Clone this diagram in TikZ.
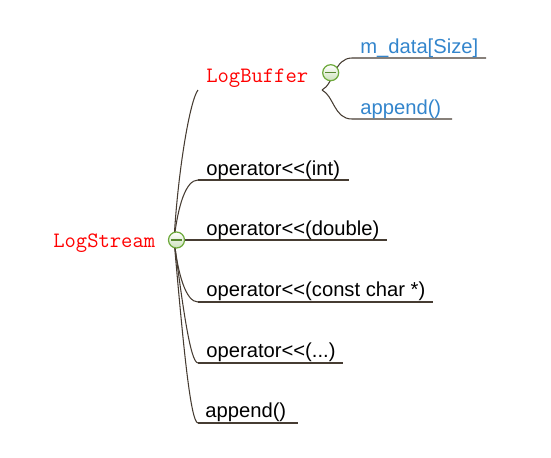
\documentclass[tikz,border=0pt]{standalone}
\usepackage{fontspec}
\setmainfont{Liberation Sans}

\definecolor{branchline}{RGB}{70,60,50}
\definecolor{topicred}{RGB}{255,0,0}
\definecolor{leafblue}{RGB}{51,133,204}
\definecolor{knobgreen}{RGB}{110,170,60}

\begin{document}
\begin{tikzpicture}[x=0.02cm, y=-0.02cm]
    % Styles
    \tikzset{
        topic/.style={font=\ttfamily\fontsize{12.5}{14}\selectfont, text=topicred, inner sep=0pt, anchor=base west},
        leaf/.style={font=\fontsize{11.5}{13}\selectfont, inner sep=0pt, anchor=base west},
        subleaf/.style={leaf, text=leafblue},
        branch/.style={draw=branchline, line width=0.6pt},
        knob/.style={circle, draw=knobgreen, line width=0.7pt, top color=white, bottom color=knobgreen!35,
            minimum size=0.32cm, inner sep=0pt,
            path picture={\draw[knobgreen!80!black, line width=0.9pt]
                ([xshift=-3.2pt]path picture bounding box.center) -- ([xshift=3.2pt]path picture bounding box.center);}}
    }
    \useasboundingbox (0,0) rectangle (551,457);

    % Central topic
    \node[topic] (stream) at (53,247) {LogStream};
    \coordinate (fork) at (174,240);

    % Left ends of the branches
    \coordinate (buffer-l) at (198,90);
    \coordinate (int-l) at (198,180);
    \coordinate (dbl-l) at (198,240);
    \coordinate (str-l) at (198,302);
    \coordinate (any-l) at (198,363);
    \coordinate (app-l) at (198,423);

    % Right ends of the underlines
    \coordinate (int-r) at (349,180);
    \coordinate (dbl-r) at (387,240);
    \coordinate (str-r) at (433,302);
    \coordinate (any-r) at (343,363);
    \coordinate (app-r) at (298,423);

    % Branches from LogStream
    \draw[branch] (fork) .. controls (178,170) and (190,100) .. (buffer-l);
    \draw[branch] (fork) .. controls (178,205) and (186,180) .. (int-l);
    \draw[branch] (fork) -- (dbl-l);
    \draw[branch] (fork) .. controls (178,275) and (186,302) .. (str-l);
    \draw[branch] (fork) .. controls (182,300) and (190,363) .. (any-l);
    \draw[branch] (fork) .. controls (182,330) and (190,423) .. (app-l);

    % Underlines
    \draw[branch] (int-l) -- (int-r);
    \draw[branch] (dbl-l) -- (dbl-r);
    \draw[branch] (str-l) -- (str-r);
    \draw[branch] (any-l) -- (any-r);
    \draw[branch] (app-l) -- (app-r);

    % Leaves of LogStream
    \node[topic] (buffer) at (206,82) {LogBuffer};
    \node[leaf] (int) at (206,175) {operator<{}<(int)};
    \node[leaf] (dbl) at (206,235) {operator<{}<(double)};
    \node[leaf] (str) at (206,296) {operator<{}<(const char *)};
    \node[leaf] (any) at (206,357) {operator<{}<(...)};
    \node[leaf] (app) at (205,417) {append()};

    % LogBuffer sub-branches
    \coordinate (bfork) at (322,90);
    \coordinate (data-l) at (352,58);
    \coordinate (data-r) at (486,58);
    \coordinate (bapp-l) at (352,119);
    \coordinate (bapp-r) at (452,119);
    \draw[branch] (bfork) .. controls (334,84) and (334,58) .. (data-l) -- (data-r);
    \draw[branch] (bfork) .. controls (334,96) and (334,119) .. (bapp-l) -- (bapp-r);
    \node[subleaf] (data) at (360,53) {m\_data[Size]};
    \node[subleaf] (bapp) at (360,114) {append()};

    % Collapse knobs
    \node[knob] (root) at (176.5,240) {};
    \node[knob] (bknob) at (330.7,72.7) {};
\end{tikzpicture}
\end{document}
